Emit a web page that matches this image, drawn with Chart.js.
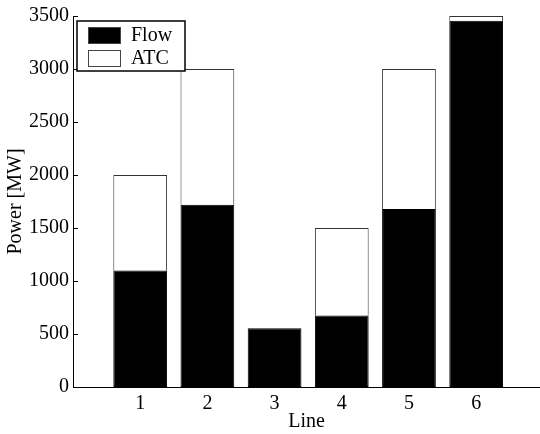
<!DOCTYPE html>
<html>
<head>
<meta charset="utf-8">
<script src="https://cdn.jsdelivr.net/npm/chart.js@4/dist/chart.umd.min.js"></script>
<style>
  html, body { margin: 0; padding: 0; background: #fff; }
  #wrap { width: 540px; height: 434px; }
</style>
</head>
<body>
<div id="wrap"><canvas id="powerChart"></canvas></div>
<script>
// line numbers and power values (MW)
const lines = [1, 2, 3, 4, 5, 6];
const flow = [1100, 1720, 555, 675, 1680, 3455];
const atc = [900, 1280, 0, 825, 1320, 45];
const yTicks = [0, 500, 1000, 1500, 2000, 2500, 3000, 3500];

const serif = 'Liberation Serif, Times New Roman, serif';

// MATLAB style inner tick marks + boxed legend in the top left corner
const matlabBits = {
    id: 'matlabBits',
    afterDraw(chart) {
        const ctx = chart.ctx;
        const area = chart.chartArea;
        const y = chart.scales.y;
        ctx.save();
        ctx.strokeStyle = '#000';
        ctx.lineWidth = 1;
        yTicks.forEach(v => {
            const py = Math.round(y.getPixelForValue(v)) + 0.5;
            ctx.beginPath();
            ctx.moveTo(area.left, py);
            ctx.lineTo(area.left + 5, py);
            ctx.stroke();
        });

        // legend box
        const bx = 77, by = 21, bw = 108, bh = 50;
        ctx.fillStyle = '#fff';
        ctx.fillRect(bx, by, bw, bh);
        ctx.lineWidth = 1.5;
        ctx.strokeRect(bx, by, bw, bh);
        ctx.font = '20px ' + serif;
        ctx.textBaseline = 'middle';
        chart.data.datasets.forEach((ds, i) => {
            const ry = by + 6 + i * 23;
            ctx.fillStyle = ds.backgroundColor;
            ctx.fillRect(88, ry, 32, 16);
            ctx.lineWidth = 1;
            ctx.strokeStyle = '#444';
            ctx.strokeRect(88.5, ry + 0.5, 32, 16);
            ctx.fillStyle = '#000';
            ctx.fillText(ds.label, 131, ry + 9);
        });
        ctx.restore();
    }
};

const ctx = document.getElementById('powerChart').getContext('2d');
const powerChart = new Chart(ctx, {
    type: 'bar',
    data: {
        datasets: [{
            label: 'Flow',
            data: lines.map((l, i) => ({ x: l, y: flow[i] })),
            backgroundColor: '#000',
            borderColor: '#000',
            borderWidth: 1,
            borderSkipped: false
        }, {
            label: 'ATC',
            data: lines.map((l, i) => ({ x: l, y: atc[i] })),
            backgroundColor: '#fff',
            borderColor: '#333',
            borderWidth: 1,
            borderSkipped: 'bottom'
        }]
    },
    options: {
        responsive: true,
        maintainAspectRatio: false,
        animation: false,
        layout: { padding: { top: 16, right: 0, left: 0, bottom: 0 } },
        plugins: {
            legend: { display: false },
            tooltip: { enabled: false }
        },
        datasets: {
            bar: { barPercentage: 0.8, categoryPercentage: 1 }
        },
        scales: {
            x: {
                type: 'linear',
                stacked: true,
                offset: false,
                min: 0,
                max: 6.95,
                grid: { display: false, tickLength: 0 },
                border: { display: true, color: '#000', width: 1 },
                afterBuildTicks: axis => { axis.ticks = lines.map(v => ({ value: v })); },
                afterFit: axis => { axis.height = 47; },
                ticks: {
                    color: '#000',
                    padding: 5,
                    font: { family: serif, size: 20 },
                    callback: v => String(v)
                },
                title: {
                    display: true,
                    text: 'Line',
                    color: '#000',
                    padding: { top: 0, bottom: 0 },
                    font: { family: serif, size: 20 }
                }
            },
            y: {
                stacked: true,
                min: 0,
                max: 3500,
                grid: { display: false, tickLength: 0 },
                border: { display: true, color: '#000', width: 1 },
                afterBuildTicks: axis => { axis.ticks = yTicks.map(v => ({ value: v })); },
                afterFit: axis => { axis.width = 73; },
                ticks: {
                    color: '#000',
                    padding: 4,
                    font: { family: serif, size: 20 },
                    callback: v => String(v)
                },
                title: {
                    display: true,
                    text: 'Power [MW]',
                    color: '#000',
                    padding: { top: 4, bottom: 0 },
                    font: { family: serif, size: 20 }
                }
            }
        }
    },
    plugins: [matlabBits]
});
</script>
</body>
</html>
